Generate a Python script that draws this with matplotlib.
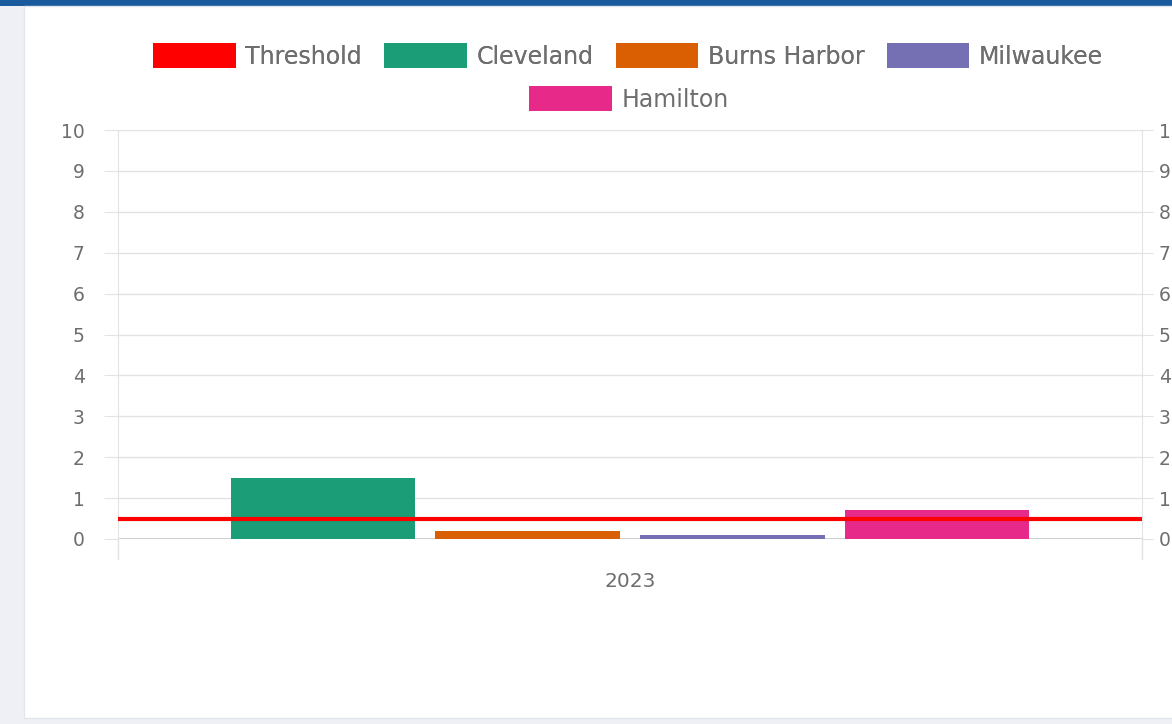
import matplotlib.pyplot as plt
from matplotlib.patches import Rectangle, Patch

# data
category = '2023'
series = ['Cleveland', 'Burns Harbor', 'Milwaukee', 'Hamilton']
values = [1.5, 0.2, 0.1, 0.7]
colors = ['#1b9e77', '#d95f02', '#7570b3', '#e7298a']
threshold = 0.5
threshold_color = '#ff0000'
yticks = list(range(0, 11))

W, H = 1172, 724
fig = plt.figure(figsize=(W / 100, H / 100), dpi=100)
fig.patch.set_facecolor('#eef0f6')

# page chrome: blue header strip, white card
fig.add_artist(Rectangle((0, 1 - 6 / H), 1, 6 / H, transform=fig.transFigure,
                         facecolor='#1a5b9e', edgecolor='none', zorder=0))
fig.add_artist(Rectangle((24 / W, 6 / H), 1, 1 - 12 / H, transform=fig.transFigure,
                         facecolor='white', edgecolor='#e4e6ee', lw=1, zorder=0))

plt.rcParams['font.family'] = ['DejaVu Sans']
txt = '#6e6e6e'
grid = '#e3e3e3'

ax = fig.add_axes([118 / W, (H - 539) / H, (1142 - 118) / W, 409 / H])
ax.set_facecolor('none')
ax.set_xlim(-0.5, 0.5)
ax.set_ylim(0, 10)

n = len(series)
slot = 0.8 / n
for i, (name, v, c) in enumerate(zip(series, values, colors)):
    x = -0.4 + slot * (i + 0.5)
    ax.bar(x, v, width=slot * 0.9, color=c, zorder=3)

ax.axhline(threshold, color=threshold_color, lw=3, zorder=4)

ax.set_yticks(yticks)
ax.set_yticklabels([str(t) for t in yticks], color=txt, fontsize=13.5)
ax.tick_params(axis='y', length=10, color=grid, pad=14)
ax.set_xticks([0])
ax.set_xticklabels([category], color=txt, fontsize=14.5)
ax.tick_params(axis='x', length=0, pad=24)
ax.grid(axis='y', color=grid, lw=1, zorder=0)
for s in ['top', 'bottom']:
    ax.spines[s].set_visible(False)
for s in ['left', 'right']:
    ax.spines[s].set_color(grid)
ax.axhline(0, color='#c8c8c8', lw=1.2, zorder=2)
# category boundary ticks below the axis
for xb in [-0.5, 0.5]:
    ax.plot([xb, xb], [0, -0.5], color=grid, lw=1, clip_on=False)

ax2 = ax.twinx()
ax2.set_ylim(0, 10)
ax2.set_yticks(yticks)
ax2.set_yticklabels([str(t) for t in yticks], color=txt, fontsize=13.5)
ax2.tick_params(axis='y', length=8, color=grid, pad=4)
for s in ['top', 'bottom', 'left', 'right']:
    ax2.spines[s].set_visible(False)

# legend: two centred rows like the chart.js legend
leg_kw = dict(loc='center', frameon=False, fontsize=17, handlelength=3.5,
              handleheight=1.2, handletextpad=0.4, columnspacing=0.95,
              labelcolor=txt)
row1 = [Patch(facecolor=threshold_color)] + [Patch(facecolor=c) for c in colors[:3]]
lab1 = ['Threshold'] + series[:3]
leg1 = fig.legend(row1, lab1, bbox_to_anchor=(628 / W, 1 - 56 / H), ncol=4, **leg_kw)
fig.legend([Patch(facecolor=colors[3])], series[3:],
           bbox_to_anchor=(629 / W, 1 - 99 / H), **leg_kw)
fig.add_artist(leg1)

fig.savefig('out.png', dpi=100, facecolor=fig.get_facecolor())
